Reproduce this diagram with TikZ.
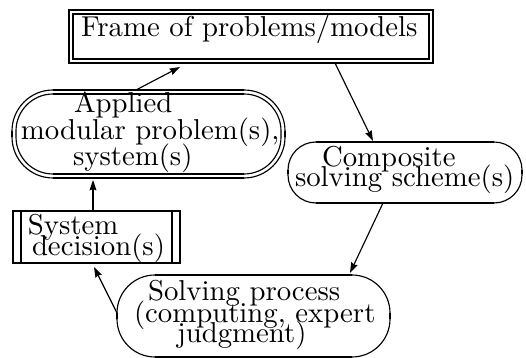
\documentclass[tikz,border=0pt]{standalone}
\usetikzlibrary{calc,fit,arrows.meta}

\tikzset{
  area/.style={inner sep=0pt, outer sep=0pt},
  txt/.style={anchor=base west, inner sep=0pt, outer sep=0pt},
  thinline/.style={line width=0.4pt},
  thickline/.style={line width=0.8pt},
  flow/.style={line width=0.4pt, -{Stealth[length=3.6pt,width=2.4pt,inset=0.4pt]}},
}

\begin{document}
\begin{tikzpicture}[x=0.3476pt, y=-0.3476pt]
\useasboundingbox (0,0) rectangle (526,358);

% ---- areas of the five blocks ----
\node[area, fit={(69,10) (433,63)}]   (frame) {};
\node[area, fit={(12,90) (285,178)}]  (app)   {};
\node[area, fit={(288,142) (522,203)}] (comp) {};
\node[area, fit={(13,211) (180,263)}] (sys)   {};
\node[area, fit={(117,275) (390,357)}] (solv) {};

% ---- frame: double box ----
\draw[thickline] (frame.south west) rectangle (frame.north east);
\draw[thickline] ($(frame.south west)+(4,-4)$) rectangle ($(frame.north east)+(-4,4)$);

% ---- applied problems: double oval ----
\draw[thinline, rounded corners=14.25pt] (app.north west) rectangle (app.south east);
\draw[thinline, rounded corners=12.86pt] ($(app.north west)+(4,4)$) rectangle ($(app.south east)+(-4,-4)$);
\draw[thickline] ($(app.north west)+(41,0)$) -- ($(app.north east)+(-41,0)$);
\draw[thickline] ($(app.south west)+(41,0)$) -- ($(app.south east)+(-41,0)$);
\draw[thickline] ($(app.north west)+(41,4)$) -- ($(app.north east)+(-41,4)$);
\draw[thickline] ($(app.south west)+(41,-4)$) -- ($(app.south east)+(-41,-4)$);
\draw[thickline] ($(app.west)+(0,-3)$) -- ($(app.west)+(0,3)$);
\draw[thickline] ($(app.east)+(0,-3)$) -- ($(app.east)+(0,3)$);

% ---- composite scheme: oval ----
\draw[thinline, rounded corners=9.7pt] (comp.north west) rectangle (comp.south east);
\draw[thickline] ($(comp.north west)+(28,0)$) -- ($(comp.north east)+(-28,0)$);
\draw[thickline] ($(comp.south west)+(28,0)$) -- ($(comp.south east)+(-28,0)$);
\draw[thickline] ($(comp.west)+(0,-2)$) -- ($(comp.west)+(0,2)$);
\draw[thickline] ($(comp.east)+(0,-2)$) -- ($(comp.east)+(0,2)$);

% ---- solving process: oval ----
\draw[thinline, rounded corners=13.21pt] (solv.north west) rectangle (solv.south east);
\draw[thickline] ($(solv.north west)+(38,0)$) -- ($(solv.north east)+(-38,0)$);
\draw[thickline] ($(solv.south west)+(38,0)$) -- ($(solv.south east)+(-38,0)$);
\draw[thickline] ($(solv.west)+(0,-3)$) -- ($(solv.west)+(0,3)$);
\draw[thickline] ($(solv.east)+(0,-3)$) -- ($(solv.east)+(0,3)$);

% ---- system decisions: box with double sides ----
\draw[thickline] (sys.south west) rectangle (sys.north east);
\draw[thickline] ($(sys.north west)+(8,0)$) -- ($(sys.south west)+(8,0)$);
\draw[thickline] ($(sys.north east)+(-8,0)$) -- ($(sys.south east)+(-8,0)$);

% ---- texts ----
\node[txt] (frameT) at (81,37)  {Frame of problems/models};
\node[txt] (app1)   at (74,113) {Applied};
\node[txt] (app2)   at (21,140) {modular problem(s),};
\node[txt] (app3)   at (73,166) {system(s)};
\node[txt] (comp1)  at (322,167) {Composite};
\node[txt] (comp2)  at (295,187) {solving scheme(s)};
\node[txt] (sys1)   at (28,235) {System};
\node[txt] (sys2)   at (32,256) {decision(s)};
\node[txt] (solv1)  at (148,301) {Solving process};
\node[txt] (solv2)  at (134,323) {(computing, expert};
\node[txt] (solv3)  at (177,343) {judgment)};

% ---- connectors ----
\draw[flow] ($(app.north west)+(124,0)$) -- ($(frame.south west)+(111,4)$);
\draw[flow] ($(frame.south west)+(266,0)$) -- ($(comp.north west)+(85,-1)$);
\draw[flow] ($(comp.south west)+(95,0)$) -- ($(solv.north west)+(233,-2)$);
\draw[flow] ($(solv.west)+(0,-3)$) -- ($(sys.south west)+(81,4)$);
\draw[flow] ($(sys.north west)+(80,0)$) -- ($(app.south west)+(81,2)$);
\end{tikzpicture}
\end{document}
